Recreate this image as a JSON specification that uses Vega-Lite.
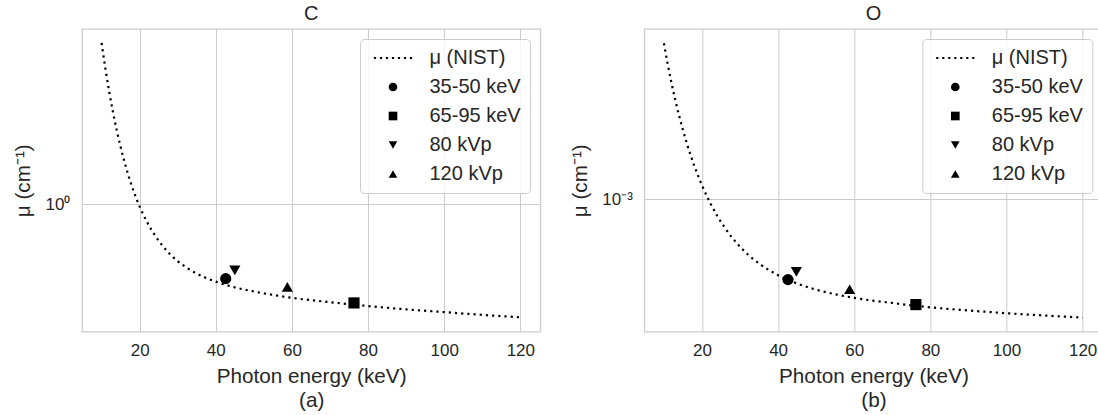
{
  "$schema": "https://vega.github.io/schema/vega-lite/v6.json",
  "background": "white",
  "padding": {"left": 12, "top": 3, "right": 0, "bottom": 0},
  "spacing": 103.3,
  "bounds": "flush",
  "config": {
    "font": "Liberation Sans",
    "view": {"stroke": "#cccccc", "strokeWidth": 1.25},
    "axis": {
      "grid": true, "gridColor": "#cccccc", "gridWidth": 1,
      "domain": false, "ticks": false, "tickSize": 0,
      "labelFontSize": 17, "labelColor": "#262626", "labelPadding": 12,
      "titleFontSize": 20.7, "titleColor": "#262626", "titleFontWeight": "normal"
    },
    "axisX": {"labelPadding": 11},
    "title": {"fontSize": 20, "fontWeight": "normal", "color": "#262626", "offset": 5, "baseline": "alphabetic"},
    "legend": {
      "orient": "top-right", "offset": 10, "padding": 9,
      "strokeColor": "#cccccc", "fillColor": "rgba(255,255,255,0.8)", "cornerRadius": 4,
      "labelFontSize": 20, "labelColor": "#262626", "labelFont": "Liberation Sans",
      "symbolSize": 75, "symbolOffset": 14, "labelOffset": 26.5, "rowPadding": 9,
      "symbolFillColor": "black", "symbolStrokeWidth": 0
    }
  },
  "datasets": {
    "curveC": [
      {"E": 10, "mu": 5.153}, {"E": 11, "mu": 3.96}, {"E": 12, "mu": 3.135}, {"E": 13, "mu": 2.545},
      {"E": 14, "mu": 2.112}, {"E": 15, "mu": 1.788}, {"E": 16, "mu": 1.541}, {"E": 17, "mu": 1.348},
      {"E": 18, "mu": 1.196}, {"E": 19, "mu": 1.075}, {"E": 20, "mu": 0.977}, {"E": 22, "mu": 0.8314},
      {"E": 24, "mu": 0.7302}, {"E": 26, "mu": 0.6564}, {"E": 28, "mu": 0.6024}, {"E": 30, "mu": 0.5611},
      {"E": 32, "mu": 0.5297}, {"E": 35, "mu": 0.4946}, {"E": 40, "mu": 0.4561}, {"E": 45, "mu": 0.4303},
      {"E": 50, "mu": 0.4126}, {"E": 55, "mu": 0.3985}, {"E": 60, "mu": 0.3868}, {"E": 70, "mu": 0.3702},
      {"E": 80, "mu": 0.3558}, {"E": 90, "mu": 0.3441}, {"E": 100, "mu": 0.3346}, {"E": 110, "mu": 0.3253},
      {"E": 120, "mu": 0.3174}
    ],
    "ptsC": [
      {"E": 42.6, "mu": 0.47, "series": "35-50 keV"},
      {"E": 76.3, "mu": 0.3673, "series": "65-95 keV"},
      {"E": 45.0, "mu": 0.5115, "series": "80 kVp"},
      {"E": 58.8, "mu": 0.432, "series": "120 kVp"}
    ],
    "curveO": [
      {"E": 10, "mu": 0.00814}, {"E": 11, "mu": 0.006145}, {"E": 12, "mu": 0.004769}, {"E": 13, "mu": 0.003791},
      {"E": 14, "mu": 0.003074}, {"E": 15, "mu": 0.002538}, {"E": 16, "mu": 0.00213}, {"E": 17, "mu": 0.001815},
      {"E": 18, "mu": 0.001565}, {"E": 19, "mu": 0.001367}, {"E": 20, "mu": 0.0012067}, {"E": 22, "mu": 0.0009677},
      {"E": 24, "mu": 0.0008011}, {"E": 26, "mu": 0.0006824}, {"E": 28, "mu": 0.0005944}, {"E": 30, "mu": 0.0005286},
      {"E": 32, "mu": 0.0004778}, {"E": 35, "mu": 0.0004223}, {"E": 40, "mu": 0.0003606}, {"E": 45, "mu": 0.0003225},
      {"E": 50, "mu": 0.0002971}, {"E": 55, "mu": 0.0002793}, {"E": 60, "mu": 0.0002659}, {"E": 70, "mu": 0.0002484},
      {"E": 80, "mu": 0.0002341}, {"E": 90, "mu": 0.0002246}, {"E": 100, "mu": 0.0002164}, {"E": 110, "mu": 0.0002098},
      {"E": 120, "mu": 0.000204}
    ],
    "ptsO": [
      {"E": 42.6, "mu": 0.00034, "series": "35-50 keV"},
      {"E": 76.2, "mu": 0.000243, "series": "65-95 keV"},
      {"E": 44.8, "mu": 0.000377, "series": "80 kVp"},
      {"E": 58.8, "mu": 0.0002985, "series": "120 kVp"}
    ]
  },
  "hconcat": [
    {
      "title": {"text": "C"},
      "width": 458.3,
      "height": 302.6,
      "layer": [
        {
          "data": {"name": "curveC"},
          "mark": {"type": "line", "color": "black", "strokeWidth": 2.2, "strokeDash": [2.2, 4], "interpolate": "monotone"},
          "encoding": {
            "x": {"field": "E", "type": "quantitative", "scale": {"domain": [4.85, 125.25], "nice": false, "zero": false},
                  "axis": {"values": [20, 40, 60, 80, 100, 120], "title": ["Photon energy (keV)", "(a)"], "titleY": 51.2, "titleBaseline": "alphabetic", "titleLineHeight": 23.4}},
            "y": {"field": "mu", "type": "quantitative", "scale": {"type": "log", "domain": [0.27453, 5.933], "nice": false},
                  "axis": {"values": [1], "labelExpr": "'10⁰'", "title": "μ (cm⁻¹)", "titleX": -52.2, "titleY": 151.3, "titleBaseline": "alphabetic", "titleAlign": "center"}}
          }
        },
        {
          "data": {"name": "ptsC"},
          "mark": {"type": "point", "filled": true, "color": "black", "opacity": 1, "size": 125},
          "encoding": {
            "x": {"field": "E", "type": "quantitative"},
            "y": {"field": "mu", "type": "quantitative"},
            "shape": {"field": "series", "type": "nominal",
              "scale": {"domain": ["μ (NIST)", "35-50 keV", "65-95 keV", "80 kVp", "120 kVp"],
                        "range": ["M-4.411,-0.254h0.508v0.508h-0.508z M-3.025,-0.254h0.508v0.508h-0.508z M-1.64,-0.254h0.508v0.508h-0.508z M-0.254,-0.254h0.508v0.508h-0.508z M1.132,-0.254h0.508v0.508h-0.508z M2.517,-0.254h0.508v0.508h-0.508z M3.903,-0.254h0.508v0.508h-0.508z", "circle", "square", "triangle-down", "triangle-up"]},
              "legend": {"title": null}}
          }
        }
      ]
    },
    {
      "title": {"text": "O"},
      "width": 458.3,
      "height": 302.6,
      "layer": [
        {
          "data": {"name": "curveO"},
          "mark": {"type": "line", "color": "black", "strokeWidth": 2.2, "strokeDash": [2.2, 4], "interpolate": "monotone"},
          "encoding": {
            "x": {"field": "E", "type": "quantitative", "scale": {"domain": [4.85, 125.25], "nice": false, "zero": false},
                  "axis": {"values": [20, 40, 60, 80, 100, 120], "title": ["Photon energy (keV)", "(b)"], "titleY": 51.2, "titleBaseline": "alphabetic", "titleLineHeight": 23.4}},
            "y": {"field": "mu", "type": "quantitative", "scale": {"type": "log", "domain": [0.00016906, 0.009853], "nice": false},
                  "axis": {"values": [0.001], "labelExpr": "'10⁻³'", "title": "μ (cm⁻¹)", "titleX": -57.8, "titleY": 151.3, "titleBaseline": "alphabetic", "titleAlign": "center"}}
          }
        },
        {
          "data": {"name": "ptsO"},
          "mark": {"type": "point", "filled": true, "color": "black", "opacity": 1, "size": 125},
          "encoding": {
            "x": {"field": "E", "type": "quantitative"},
            "y": {"field": "mu", "type": "quantitative"},
            "shape": {"field": "series", "type": "nominal",
              "scale": {"domain": ["μ (NIST)", "35-50 keV", "65-95 keV", "80 kVp", "120 kVp"],
                        "range": ["M-4.411,-0.254h0.508v0.508h-0.508z M-3.025,-0.254h0.508v0.508h-0.508z M-1.64,-0.254h0.508v0.508h-0.508z M-0.254,-0.254h0.508v0.508h-0.508z M1.132,-0.254h0.508v0.508h-0.508z M2.517,-0.254h0.508v0.508h-0.508z M3.903,-0.254h0.508v0.508h-0.508z", "circle", "square", "triangle-down", "triangle-up"]},
              "legend": {"title": null}}
          }
        }
      ]
    }
  ],
  "resolve": {"scale": {"y": "independent", "shape": "independent"}, "legend": {"shape": "independent"}}
}
